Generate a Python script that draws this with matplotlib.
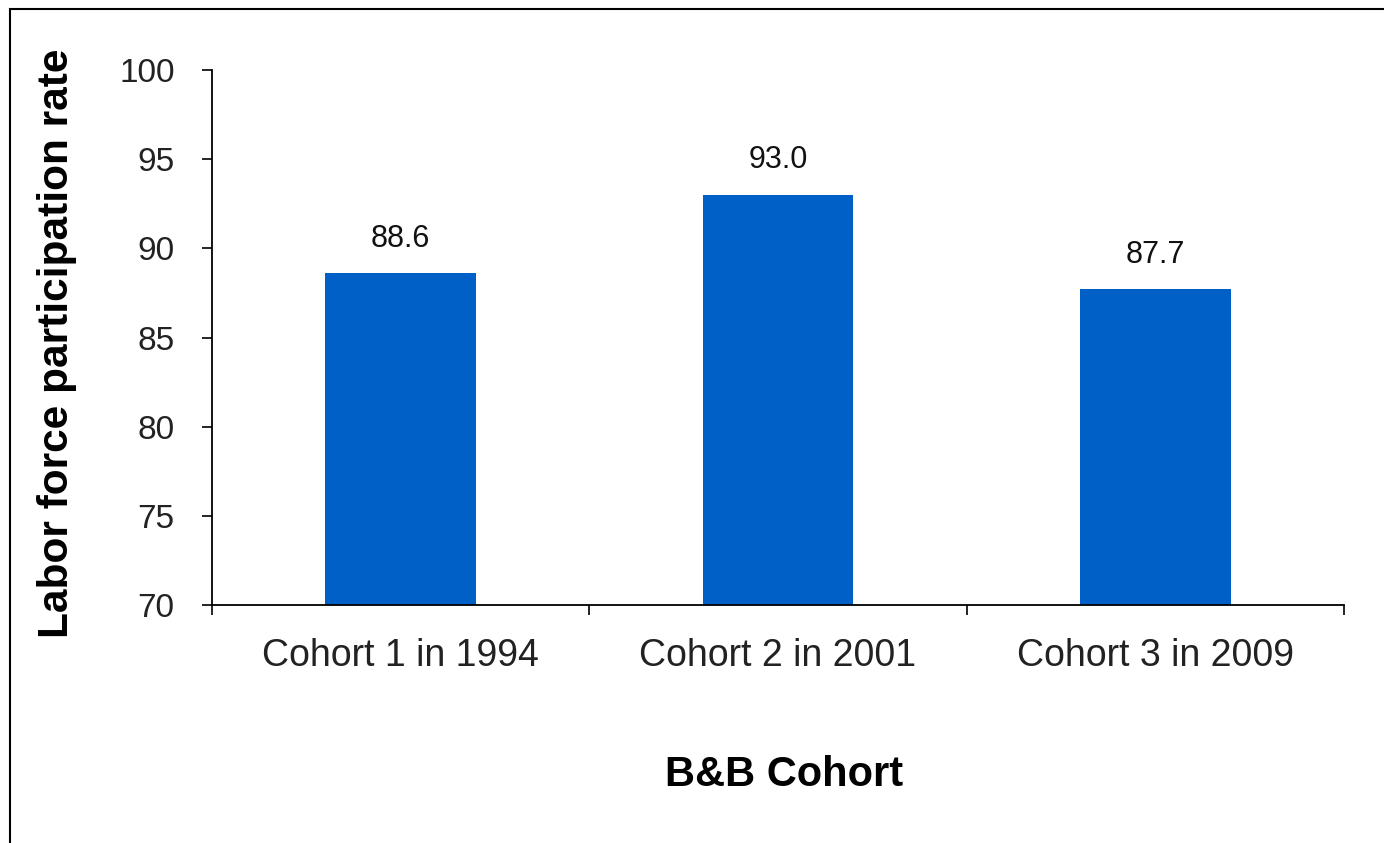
import numpy as np
import matplotlib
matplotlib.use('Agg')
import matplotlib.pyplot as plt
from matplotlib.patches import Rectangle

# 数据
categories = ['Cohort 1 in 1994', 'Cohort 2 in 2001', 'Cohort 3 in 2009']
rates = [88.6, 93.0, 87.7]
y_ticks = [70, 75, 80, 85, 90, 95, 100]

plt.rcParams['font.family'] = ['Liberation Sans', 'DejaVu Sans']

fig = plt.figure(figsize=(13.84, 8.43), dpi=100)
ax = fig.add_axes([212 / 1384, 1 - 605 / 843, (1344 - 212) / 1384, (605 - 70) / 843])

x = np.arange(len(categories))
bars = ax.bar(x, [r - 70 for r in rates], bottom=70, width=0.4, color='#0060C8')

# 数据标签
for xi, r in zip(x, rates):
    ax.annotate(f'{r:.1f}', (xi, r), xytext=(0, 14), textcoords='offset points',
                ha='center', va='bottom', fontsize=22, color='#111111')

ax.set_xlim(-0.5, len(categories) - 0.5)
ax.set_ylim(70, 100)
ax.set_yticks(y_ticks)
ax.tick_params(axis='y', labelsize=24, length=7, width=1.2, pad=20, colors='black',
               labelcolor='#222222')

# x轴：刻度线在类别边界，标签在中间
ax.set_xticks(np.arange(len(categories) + 1) - 0.5)
ax.set_xticklabels([])
ax.tick_params(axis='x', which='major', length=7, width=1.2)
ax.set_xticks(x, minor=True)
ax.set_xticklabels(categories, minor=True)
ax.tick_params(axis='x', which='minor', length=0, labelsize=27, pad=24, labelcolor='#222222')

for s in ['top', 'right']:
    ax.spines[s].set_visible(False)
for s in ['left', 'bottom']:
    ax.spines[s].set_linewidth(1.3)

ax.set_ylabel('Labor force participation rate', fontsize=30.5, fontweight='bold')
ax.yaxis.set_label_coords((77 - 212) / (1344 - 212), 0.49)
fig.text(784 / 1384, 1 - 775 / 843, 'B&B Cohort', fontsize=30, fontweight='bold',
         ha='center', va='center')

# 外框
fig.patches.append(Rectangle((10 / 1384, -0.1), 1.2, 1.1 - 9 / 843 + 0.0,
                             transform=fig.transFigure, fill=False,
                             edgecolor='black', linewidth=1.5))

fig.savefig('out.png', dpi=100)
